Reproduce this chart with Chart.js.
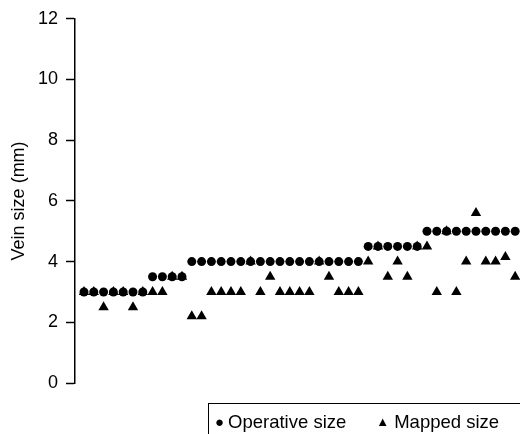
<!DOCTYPE html>
<html lang="en">
  <head>
    <meta charset="UTF-8" />
    <title>Vein size</title>
    <script src="https://cdn.jsdelivr.net/npm/chart.js"></script>
    <style>
      html, body { margin: 0; padding: 0; background: #fff; }
      #wrap { position: relative; width: 520px; height: 434px; overflow: hidden; }
      #legend {
        position: absolute;
        left: 208px;
        top: 403px;
        width: 330px;
        height: 50px;
        border: 1px solid #000;
        font-family: "Liberation Sans", Arial, sans-serif;
        font-size: 18.5px;
        color: #000;
        box-sizing: border-box;
        padding: 7px 0 0 6px;
        white-space: nowrap;
      }
      #legend .mk { font-size: 15px; vertical-align: 1px; margin-right: 4px; }
      #legend .tri { font-size: 13px; vertical-align: 2px; margin-right: 5px; }
      #legend .item2 { margin-left: 30px; }
    </style>
  </head>
  <body>
    <div id="wrap">
      <canvas id="chart" width="520" height="434"></canvas>
      <div id="legend">
        <span class="mk">&#9679;</span>Operative size<span class="item2"><span class="tri">&#9650;</span>Mapped size</span>
      </div>
    </div>

    <script>
      // patients in order of operative size
      const patients = [1, 2, 3, 4, 5, 6, 7, 8, 9, 10, 11, 12, 13, 14, 15,
        16, 17, 18, 19, 20, 21, 22, 23, 24, 25, 26, 27, 28, 29, 30,
        31, 32, 33, 34, 35, 36, 37, 38, 39, 40, 41, 42, 43, 44, 45];

      const operativeSize = [3, 3, 3, 3, 3, 3, 3, 3.5, 3.5, 3.5, 3.5,
        4, 4, 4, 4, 4, 4, 4, 4, 4, 4, 4, 4, 4, 4, 4, 4, 4, 4,
        4.5, 4.5, 4.5, 4.5, 4.5, 4.5,
        5, 5, 5, 5, 5, 5, 5, 5, 5, 5];

      const mappedSize = [3, 3, 2.5, 3, 3, 2.5, 3, 3, 3, 3.5, 3.5,
        2.2, 2.2, 3, 3, 3, 3, 4, 3, 3.5, 3, 3, 3, 3, 4, 3.5, 3, 3, 3,
        4, 4.5, 3.5, 4, 3.5, 4.5,
        4.5, 3, 5, 3, 4, 5.6, 4, 4, 4.15, 3.5];

      const yTicks = [0, 2, 4, 6, 8, 10, 12];

      const toPoints = (vals) => vals.map((v, i) => ({ x: patients[i], y: v }));

      const font = { family: "'Liberation Sans', Arial, sans-serif", size: 18 };

      new Chart(document.getElementById("chart"), {
        type: "scatter",
        data: {
          datasets: [
            {
              label: "Operative size",
              data: toPoints(operativeSize),
              pointStyle: "circle",
              pointRadius: 4.5,
              backgroundColor: "#000",
              borderColor: "#000",
              borderWidth: 0,
              clip: false,
            },
            {
              label: "Mapped size",
              data: toPoints(mappedSize),
              pointStyle: "triangle",
              pointRadius: 6,
              backgroundColor: "#000",
              borderColor: "#000",
              borderWidth: 0,
              clip: false,
            },
          ],
        },
        options: {
          responsive: false,
          animation: false,
          layout: { padding: { top: 16, right: 0, bottom: 51, left: 0 } },
          plugins: { legend: { display: false }, tooltip: { enabled: false } },
          scales: {
            x: {
              type: "linear",
              display: false,
              min: 0.083,
              max: 44.88,
            },
            y: {
              min: 0,
              max: 12,
              afterBuildTicks: (scale) => {
                scale.ticks = yTicks.map((v) => ({ value: v }));
              },
              afterFit: (scale) => {
                scale.width = 75;
              },
              border: { display: true, color: "#000", width: 1.5 },
              grid: {
                drawOnChartArea: false,
                drawTicks: true,
                tickLength: 9,
                tickColor: "#000",
                tickWidth: 1.5,
              },
              ticks: { color: "#000", font: font, padding: 8 },
              title: {
                display: true,
                text: "Vein size (mm)",
                color: "#000",
                font: font,
                padding: { top: 8, bottom: 0 },
              },
            },
          },
        },
      });
    </script>
  </body>
</html>
